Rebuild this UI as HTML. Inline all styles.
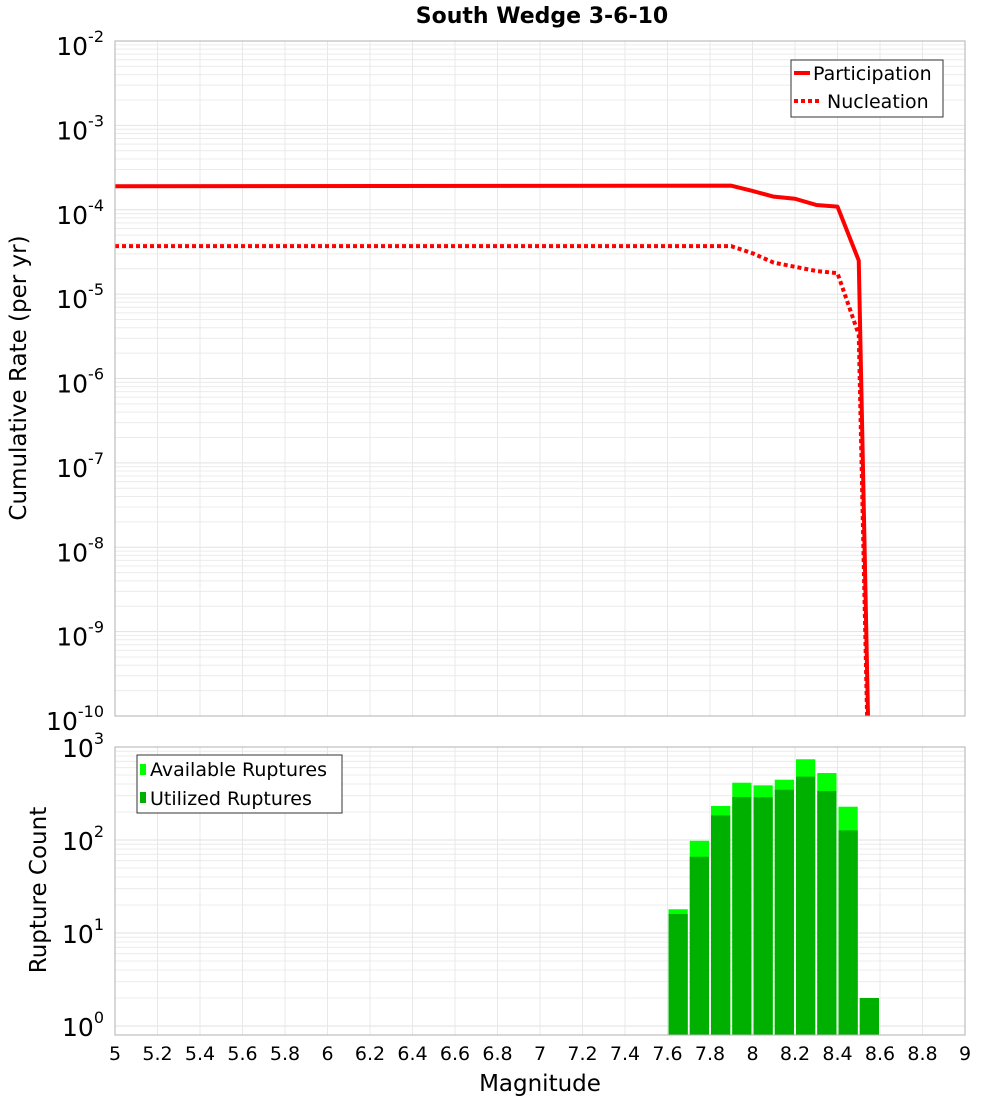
<!DOCTYPE html>
<html><head><meta charset="utf-8"><style>
body{margin:0;background:#fff;}
svg{display:block;font-family:"Liberation Sans","DejaVu Sans",sans-serif;}
</style></head><body>
<svg id="chart" width="1000" height="1100" viewBox="0 0 1000 1100">
<text x="542" y="23" text-anchor="middle" font-size="22" font-weight="bold" font-family="DejaVu Sans, sans-serif">South Wedge 3-6-10</text>
<g id="topG"></g>
<g id="botG"></g>
<text transform="translate(26,378) rotate(-90)" text-anchor="middle" font-size="23" font-family="DejaVu Sans, sans-serif">Cumulative Rate (per yr)</text>
<text transform="translate(46,890) rotate(-90)" text-anchor="middle" font-size="23" font-family="DejaVu Sans, sans-serif">Rupture Count</text>
<text x="540" y="1091" text-anchor="middle" font-size="23" font-family="DejaVu Sans, sans-serif">Magnitude</text>
</svg>
<script>
const partMags = [5.0, 7.9, 8.0, 8.1, 8.2, 8.3, 8.4, 8.5, 8.6];
const partRates = [1.9e-4, 1.93e-4, 1.67e-4, 1.43e-4, 1.35e-4, 1.14e-4, 1.09e-4, 2.5e-5, 1e-17];
const nuclMags = [5.0, 7.9, 8.0, 8.1, 8.2, 8.3, 8.4, 8.5, 8.6];
const nuclRates = [3.7e-5, 3.7e-5, 3.05e-5, 2.36e-5, 2.11e-5, 1.88e-5, 1.77e-5, 3.3e-6, 1e-17];
const binMags = [7.6, 7.7, 7.8, 7.9, 8.0, 8.1, 8.2, 8.3, 8.4, 8.5];
const availCounts = [18, 98, 232, 413, 387, 445, 738, 525, 228, 2];
const utilCounts = [16, 66, 184, 290, 288, 347, 480, 336, 127, 2];
const xTicks = ["5","5.2","5.4","5.6","5.8","6","6.2","6.4","6.6","6.8","7","7.2","7.4","7.6","7.8","8","8.2","8.4","8.6","8.8","9"];
const topExps = [-2,-3,-4,-5,-6,-7,-8,-9,-10];
const botExps = [3,2,1,0];

const NS="http://www.w3.org/2000/svg";
const L=115,R=965;
const xS=m=>L+(m-5)*(R-L)/4;
const T0=41,T1=716,yT=v=>T0+84.375*(-2-Math.log10(v));
const B0=747,B1=1035,yB=v=>1026-93*Math.log10(v);
function mk(p,tag,at){const e=document.createElementNS(NS,tag);for(const k in at)e.setAttribute(k,at[k]);p.appendChild(e);return e;}
const topG=document.getElementById('topG'),botG=document.getElementById('botG');

function grid(g,y0,y1,yf,exps){
  for(let i=0;i<exps.length-1;i++){const lo=Math.min(exps[i],exps[i+1]);
    for(let k=2;k<=9;k++){const y=yf(k*Math.pow(10,lo));if(y>y0&&y<y1){const l=mk(g,'line',{x1:L,x2:R,y1:y,y2:y,stroke:'#ececec','stroke-width':1});
      
      }}}
  exps.forEach(e=>{const y=yf(Math.pow(10,e));if(y>=y0&&y<=y1){const l=mk(g,'line',{x1:L,x2:R,y1:y,y2:y,stroke:'#e2e2e2','stroke-width':1});
    
    }});
  for(let i=0;i<=20;i++){const x=xS(5+i*0.2);const l=mk(g,'line',{x1:x,x2:x,y1:y0,y2:y1,stroke:'#e8e8e8','stroke-width':1});
    
    }
}
function ylabels(g,yf,exps,dy){
  exps.forEach(e=>{const y=yf(Math.pow(10,e));
    const t=mk(g,'text',{x:104,y:y+dy,'text-anchor':'end','font-size':25,'font-family':'DejaVu Sans, sans-serif'});
    
    
    t.textContent='10';const s=mk(t,'tspan',{dy:-13,'font-size':16});s.textContent=String(e);});
}
grid(topG,T0,T1,yT,topExps);
const cp=mk(topG,'clipPath',{id:'cpT'});mk(cp,'rect',{x:L,y:T0,width:R-L,height:T1-T0});
function line(mags,vals,dash,name){const p=mk(topG,'polyline',{points:mags.map((m,i)=>xS(m)+','+yT(vals[i])).join(' '),fill:'none',stroke:'#ff0000','stroke-width':4,'clip-path':'url(#cpT)','stroke-linejoin':'round'});if(dash)p.setAttribute('stroke-dasharray',dash);
  
  }
line(nuclMags,nuclRates,'4,3','nucleation-line');
line(partMags,partRates,null,'participation-line');
mk(topG,'rect',{x:L,y:T0,width:R-L,height:T1-T0,fill:'none',stroke:'#b0b0b0','stroke-width':1});
ylabels(topG,yT,topExps,14);
const lg=mk(topG,'g',{});


mk(lg,'rect',{x:791,y:60,width:152,height:57,fill:'#fff',stroke:'#333','stroke-width':1});
mk(lg,'line',{x1:794,x2:810,y1:73,y2:73,stroke:'#f00','stroke-width':4});
mk(lg,'line',{x1:794,x2:822,y1:101,y2:101,stroke:'#f00','stroke-width':4,'stroke-dasharray':'4,3'});
let t=mk(lg,'text',{x:813,y:80,'font-size':19,'font-family':'DejaVu Sans, sans-serif'});t.textContent='Participation';


t=mk(lg,'text',{x:827,y:108,'font-size':19,'font-family':'DejaVu Sans, sans-serif'});t.textContent='Nucleation';



grid(botG,B0,B1,yB,botExps);
const bw=xS(5.1)-xS(5);
binMags.forEach((m,i)=>{
  const x=xS(m)+1,w=bw-2;
  const a=mk(botG,'rect',{x:x,y:yB(availCounts[i]),width:w,height:B1-yB(availCounts[i]),fill:'#00ff00'});
  
  
  const u=mk(botG,'rect',{x:x,y:yB(utilCounts[i]),width:w,height:B1-yB(utilCounts[i]),fill:'#00b000'});
  
  
});
mk(botG,'rect',{x:L,y:B0,width:R-L,height:B1-B0,fill:'none',stroke:'#b0b0b0','stroke-width':1});
ylabels(botG,yB,botExps,10);
xTicks.forEach((s,i)=>{const tt=mk(botG,'text',{x:xS(5+i*0.2),y:1060,'text-anchor':'middle','font-size':19,'font-family':'DejaVu Sans, sans-serif'});tt.textContent=s;
  
  });
const bl=mk(botG,'g',{});


mk(bl,'rect',{x:137,y:755,width:205,height:58,fill:'#fff',stroke:'#333','stroke-width':1});
mk(bl,'rect',{x:140,y:764,width:6,height:11,fill:'#00ff00'});
mk(bl,'rect',{x:140,y:792,width:6,height:11,fill:'#00b000'});
t=mk(bl,'text',{x:150,y:776,'font-size':19,'font-family':'DejaVu Sans, sans-serif'});t.textContent='Available Ruptures';


t=mk(bl,'text',{x:150,y:805,'font-size':19,'font-family':'DejaVu Sans, sans-serif'});t.textContent='Utilized Ruptures';


</script>
</body></html>
